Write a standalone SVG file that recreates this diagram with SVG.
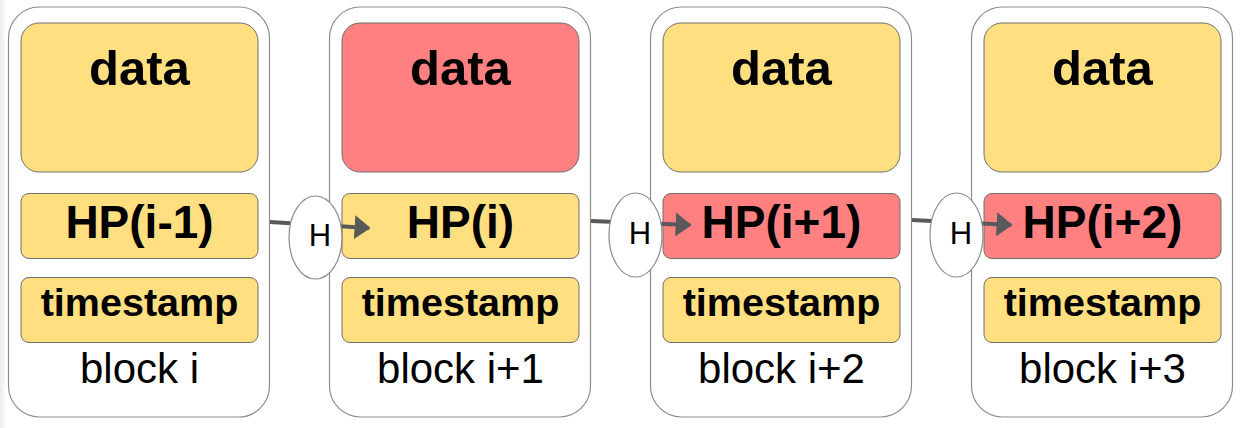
<svg xmlns="http://www.w3.org/2000/svg" width="1247" height="428" viewBox="0 0 1247 428">
<defs>
<style>
.blk{fill:#fff;stroke:#8c8c8c;stroke-width:1.2}
.y{fill:#ffdf80;stroke:#6e6e6e;stroke-width:1}
.r{fill:#ff8080;stroke:#6e6e6e;stroke-width:1}
.t{font-family:"Liberation Sans",Arial,sans-serif;fill:#000;text-anchor:middle}
.b{font-weight:bold}
.data{font-size:49px}
.hp{font-size:46px}
.ts{font-size:39.5px}
.lbl{font-size:42px}
.h{font-size:31px}
.ell{fill:#fff;stroke:#8c8c8c;stroke-width:1.2}
.con{stroke:#595959;stroke-width:4;fill:none;marker-end:url(#ah)}
</style>
<marker id="ah" markerWidth="4" markerHeight="6" refX="3.6" refY="3" orient="auto" markerUnits="strokeWidth">
<path d="M0,0 L4,3 L0,6 z" fill="#595959"/>
</marker>
<linearGradient id="edge" x1="0" y1="0" x2="1" y2="0">
<stop offset="0" stop-color="#ececec"/>
<stop offset="1" stop-color="#ffffff"/>
</linearGradient>
</defs>
<rect x="0" y="0" width="1247" height="428" fill="#fff"/>
<rect x="0" y="0" width="7" height="428" fill="url(#edge)"/>

<g id="block1">
<rect class="blk" x="8.5" y="7" width="261" height="410" rx="31"/>
<rect class="y" x="21" y="23" width="237" height="149" rx="18"/>
<text class="t b data" x="139.5" y="85">data</text>
<rect class="y" x="21" y="193.5" width="237" height="65" rx="8"/>
<text class="t b hp" x="139.5" y="238">HP(i-1)</text>
<rect class="y" x="21" y="277.5" width="237" height="65" rx="8"/>
<text class="t b ts" x="139.5" y="316">timestamp</text>
<text class="t lbl" x="139.5" y="383">block i</text>
</g>

<g id="block2">
<rect class="blk" x="329.5" y="7" width="261" height="410" rx="31"/>
<rect class="r" x="342" y="23" width="237" height="149" rx="18"/>
<text class="t b data" x="460.5" y="85">data</text>
<rect class="y" x="342" y="193.5" width="237" height="65" rx="8"/>
<text class="t b hp" x="460.5" y="238">HP(i)</text>
<rect class="y" x="342" y="277.5" width="237" height="65" rx="8"/>
<text class="t b ts" x="460.5" y="316">timestamp</text>
<text class="t lbl" x="460.5" y="383">block i+1</text>
</g>

<g id="block3">
<rect class="blk" x="650.5" y="7" width="261" height="410" rx="31"/>
<rect class="y" x="663" y="23" width="237" height="149" rx="18"/>
<text class="t b data" x="781.5" y="85">data</text>
<rect class="r" x="663" y="193.5" width="237" height="65" rx="8"/>
<text class="t b hp" x="781.5" y="238">HP(i+1)</text>
<rect class="y" x="663" y="277.5" width="237" height="65" rx="8"/>
<text class="t b ts" x="781.5" y="316">timestamp</text>
<text class="t lbl" x="781.5" y="383">block i+2</text>
</g>

<g id="block4">
<rect class="blk" x="971.5" y="7" width="261" height="410" rx="31"/>
<rect class="y" x="984" y="23" width="237" height="149" rx="18"/>
<text class="t b data" x="1102.5" y="85">data</text>
<rect class="r" x="984" y="193.5" width="237" height="65" rx="8"/>
<text class="t b hp" x="1102.5" y="238">HP(i+2)</text>
<rect class="y" x="984" y="277.5" width="237" height="65" rx="8"/>
<text class="t b ts" x="1102.5" y="316">timestamp</text>
<text class="t lbl" x="1102.5" y="383">block i+3</text>
</g>

<g id="connectors">
<path class="con" d="M270,222 L369,228"/>
<path class="con" d="M591,221 L690,225"/>
<path class="con" d="M912,220 L1011,225"/>
</g>

<g id="hash1">
<ellipse class="ell" cx="315.5" cy="237.5" rx="26.5" ry="41.5"/>
<text class="t h" x="320" y="246">H</text>
</g>
<g id="hash2">
<ellipse class="ell" cx="635.5" cy="235" rx="26.5" ry="42"/>
<text class="t h" x="640" y="244">H</text>
</g>
<g id="hash3">
<ellipse class="ell" cx="956.5" cy="235" rx="26.5" ry="42"/>
<text class="t h" x="961" y="244">H</text>
</g>
</svg>
